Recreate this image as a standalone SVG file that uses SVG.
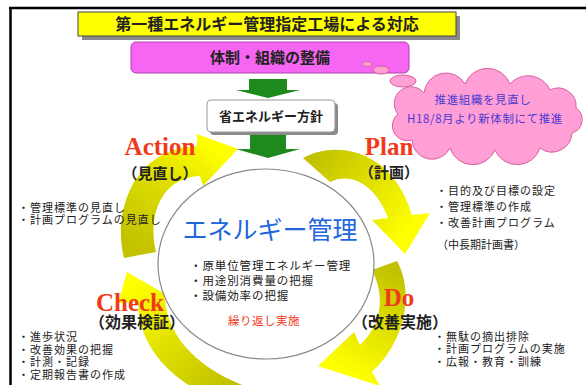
<svg xmlns="http://www.w3.org/2000/svg" width="586" height="385" viewBox="0 0 586 385">
<style>
.jp{font-family:"Noto Sans CJK JP","Noto Sans CJK SC",sans-serif;fill:#222}
.b{font-weight:bold}
.pd{font-family:"Liberation Serif","Times New Roman",serif;font-weight:bold;font-size:25px;fill:#f03a1a}
.sm{font-size:11px;letter-spacing:1px}
.grn{fill:#1e8a1e}
.bub{fill:#ff9fd6;stroke:#d8609e;stroke-width:1}
</style>
<defs>
<linearGradient id="gA" gradientUnits="userSpaceOnUse" x1="140" y1="250" x2="215" y2="150"><stop offset="0" stop-color="#c2c200"/><stop offset="0.55" stop-color="#dede00"/><stop offset="1" stop-color="#ffff00"/></linearGradient>
<linearGradient id="gP" gradientUnits="userSpaceOnUse" x1="310" y1="165" x2="405" y2="235"><stop offset="0" stop-color="#c2c200"/><stop offset="0.5" stop-color="#e0e000"/><stop offset="1" stop-color="#ffff00"/></linearGradient>
<linearGradient id="gD" gradientUnits="userSpaceOnUse" x1="388" y1="268" x2="335" y2="365"><stop offset="0" stop-color="#c2c200"/><stop offset="0.5" stop-color="#e0e000"/><stop offset="1" stop-color="#ffff00"/></linearGradient>
<linearGradient id="gC" gradientUnits="userSpaceOnUse" x1="225" y1="385" x2="135" y2="285"><stop offset="0" stop-color="#c2c200"/><stop offset="0.5" stop-color="#e0e000"/><stop offset="1" stop-color="#ffff00"/></linearGradient>
</defs>
<rect width="586" height="385" fill="#fff"/>
<g id="frame" stroke="#000" stroke-width="2.5" fill="none">
<line x1="9" y1="8" x2="586" y2="8"/>
<line x1="10.5" y1="7" x2="10.5" y2="385"/>
</g>
<g id="title">
<rect x="82" y="16" width="378" height="24" fill="#8a8a8a"/>
<rect x="78" y="12" width="378" height="24" fill="#ffff00" stroke="#444" stroke-width="1"/>
<text x="267" y="30" text-anchor="middle" class="jp b" font-size="16">第一種エネルギー管理指定工場による対応</text>
</g>
<g id="org">
<rect x="131" y="42" width="278" height="31" rx="5" fill="#f666f2" stroke="#b040b0" stroke-width="1"/>
<text x="270" y="63" text-anchor="middle" class="jp b" font-size="15">体制・組織の整備</text>
</g>
<g id="note">
<ellipse cx="367" cy="64" rx="5" ry="2.5" class="bub"/>
<ellipse cx="381" cy="70" rx="8" ry="4" class="bub"/>
<ellipse cx="403" cy="81" rx="13" ry="6" class="bub"/>
<path class="bub" d="M398,114 A16,16 0 0 1 424,93 A22,22 0 0 1 465,84 A24,24 0 0 1 510,84 A24,24 0 0 1 550,90 A18,18 0 0 1 576,108 A14,14 0 0 1 572,133 A20,20 0 0 1 540,148 A24,24 0 0 1 495,150 A24,24 0 0 1 450,148 A20,20 0 0 1 412,140 A15,15 0 0 1 398,114 Z"/>
<text x="483" y="104" text-anchor="middle" class="jp" font-size="11.5" letter-spacing="0.6" style="fill:#4a3ad0">推進組織を見直し</text>
<text x="485" y="123" text-anchor="middle" class="jp" font-size="11.5" letter-spacing="0.6" style="fill:#4a3ad0">H18/8月より新体制にて推進</text>
</g>
<g id="connectors">
<polygon class="grn" points="249,79 287,79 287,90 300,90 268,98 236,90 249,90"/>
<polygon class="grn" points="250,135 286,135 286,149 300,149 268,158 236,149 250,149"/>
<path fill="url(#gA)" d="M124,258 C112,210 135,148 197,146 L197,134 L238,149 L203,186 L200,176 C158,178 148,220 156,252 Z"/>
<path fill="url(#gP)" d="M303,158 C335,140 392,148 412,215 L430,213 L405,254 L372,220 L388,218 C378,190 355,170 330,182 Z"/>
<path fill="url(#gD)" d="M372,270 L397,261 C414,292 406,340 372,372 L380,386 L318,366 L354,332 L360,345 C381,325 386,298 372,270 Z"/>
<path fill="url(#gC)" d="M200,392 C160,370 138,338 138,302 L118,303 L127,272 L172,298 L165,300 C168,335 195,368 250,388 Z"/>
</g>
<g id="policy">
<rect x="210" y="103" width="128" height="32" rx="4" fill="#8a8a8a"/>
<rect x="207" y="100" width="128" height="32" rx="4" fill="#fff" stroke="#999" stroke-width="1"/>
<text x="271" y="121" text-anchor="middle" class="jp b" font-size="13">省エネルギー方針</text>
</g>
<g id="core">
<ellipse cx="266" cy="264" rx="108" ry="95" fill="#fff" stroke="#8a8a8a" stroke-width="1.2"/>
<text x="270" y="239" text-anchor="middle" class="jp" font-size="25" style="fill:#2266dd">エネルギー管理</text>
<text x="190" y="270" class="jp" font-size="11.5" letter-spacing="0.9">・原単位管理エネルギー管理</text>
<text x="190" y="285" class="jp" font-size="11.5" letter-spacing="0.9">・用途別消費量の把握</text>
<text x="190" y="300" class="jp" font-size="11.5" letter-spacing="0.9">・設備効率の把握</text>
<text x="264" y="325" text-anchor="middle" class="jp" font-size="11.5" letter-spacing="0.5" style="fill:#f03a1a">繰り返し実施</text>
</g>
<g id="action">
<text x="160" y="155" text-anchor="middle" class="pd">Action</text>
<text x="160" y="179" text-anchor="middle" class="jp b" font-size="15">（見直し）</text>
<text x="18" y="212" class="jp sm">・管理標準の見直し</text>
<text x="18" y="224" class="jp sm">・計画プログラムの見直し</text>
</g>
<g id="plan">
<text x="389" y="155" text-anchor="middle" class="pd">Plan</text>
<text x="389" y="178" text-anchor="middle" class="jp b" font-size="15">（計画）</text>
<text x="436" y="194.5" class="jp sm">・目的及び目標の設定</text>
<text x="436" y="210.5" class="jp sm">・管理標準の作成</text>
<text x="436" y="226.5" class="jp sm">・改善計画プログラム</text>
<text x="437" y="248.5" class="jp" font-size="11">（中長期計画書）</text>
</g>
<g id="do">
<text x="399" y="306" text-anchor="middle" class="pd">Do</text>
<text x="400" y="328" text-anchor="middle" class="jp b" font-size="16">（改善実施）</text>
<text x="434" y="340.5" class="jp sm">・無駄の摘出排除</text>
<text x="434" y="353" class="jp sm">・計画プログラムの実施</text>
<text x="434" y="365.5" class="jp sm">・広報・教育・訓練</text>
</g>
<g id="check">
<text x="130" y="311" text-anchor="middle" class="pd">Check</text>
<text x="137" y="328" text-anchor="middle" class="jp b" font-size="16">（効果検証）</text>
<text x="18" y="341" class="jp sm">・進歩状況</text>
<text x="18" y="353.5" class="jp sm">・改善効果の把握</text>
<text x="18" y="366" class="jp sm">・計測・記録</text>
<text x="18" y="378.5" class="jp sm">・定期報告書の作成</text>
</g>
</svg>
